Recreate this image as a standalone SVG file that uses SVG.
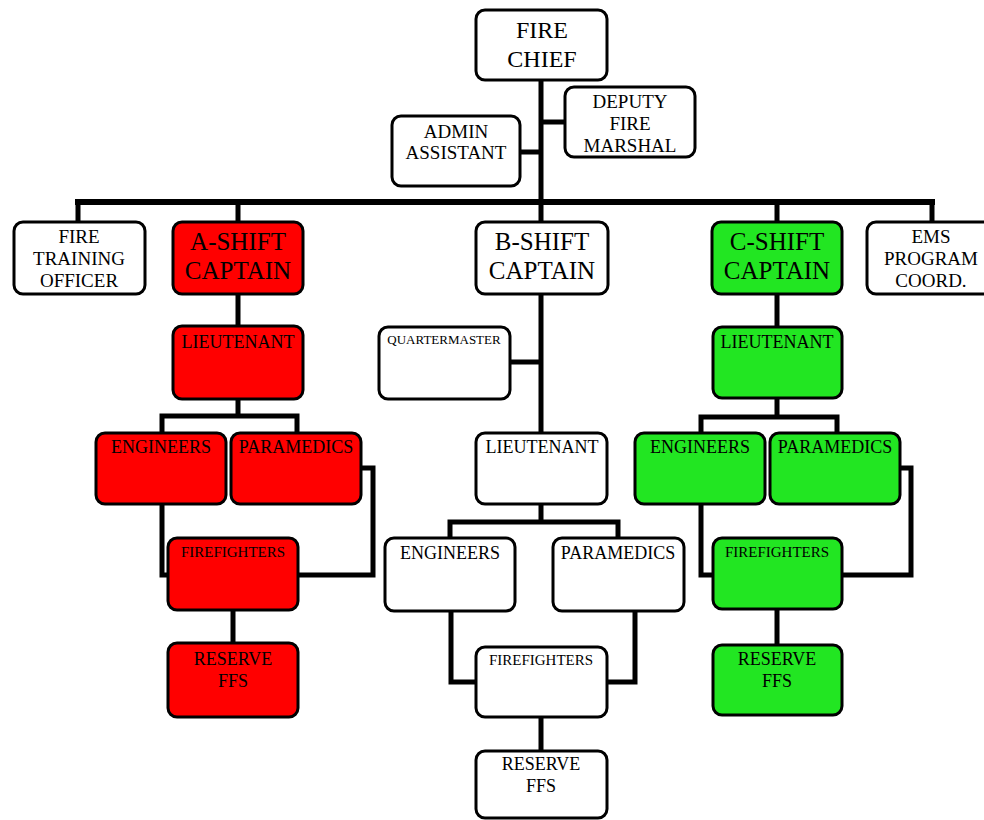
<svg xmlns="http://www.w3.org/2000/svg" width="984" height="820" viewBox="0 0 984 820">
<style>
.bx{stroke:#000;stroke-width:3;}
.w{fill:#fff;}
.r{fill:#ff0000;}
.g{fill:#22e622;}
.c{fill:none;stroke:#000;stroke-width:5;stroke-linecap:square;stroke-linejoin:miter;}
text{font-family:'Liberation Serif','DejaVu Serif','Times New Roman',serif;fill:#000;text-anchor:middle;}
.t25{font-size:25px;}
.t24{font-size:24px;}
.t19{font-size:19px;}
.t18{font-size:18px;}
.t15{font-size:15px;}
.t13{font-size:13px;}
</style>
<rect width="984" height="820" fill="#fff"/>
<g id="connectors">
<path class="c" d="M541 80V202M520 152H541M541 122H565"/>
<path class="c" style="stroke-width:6" d="M78 202H932"/>
<path class="c" d="M78 202V222M238 202V222M541 202V222M777 202V222M932 202V222"/>
<path class="c" d="M238 294V326M238 399V416M162 416H297M162 416V433M297 416V433M162 504V575H168M361 468H373V575H298M233 610V643"/>
<path class="c" d="M541 294V433M510 362H541M541 504V522M450 522H618M450 522V538M618 522V538M451 611V682H476M635 611V682H607M541 717V751"/>
<path class="c" d="M777 293V327M777 398V417M701 417H837M701 417V433M837 417V433M701 504V575H713M900 468H911V575H842M777 609V645"/>
</g>
<g font-family="Liberation Serif, DejaVu Serif, serif">
<g id="fire-chief"><rect class="bx w" x="476" y="10" width="131" height="70" rx="9"/><text class="t24" x="542" y="38">FIRE</text><text class="t24" x="542" y="67">CHIEF</text></g>
<g id="admin-assistant"><rect class="bx w" x="392" y="116" width="128" height="70" rx="9"/><text class="t19" x="456" y="138">ADMIN</text><text class="t19" x="456" y="159">ASSISTANT</text></g>
<g id="deputy-fire-marshal"><rect class="bx w" x="565" y="87" width="130" height="70" rx="9"/><text class="t19" x="630" y="108">DEPUTY</text><text class="t19" x="630" y="130">FIRE</text><text class="t19" x="630" y="152">MARSHAL</text></g>
<g id="fire-training-officer"><rect class="bx w" x="14" y="222" width="131" height="72" rx="9"/><text class="t19" x="79" y="243">FIRE</text><text class="t19" x="79" y="265">TRAINING</text><text class="t19" x="79" y="287">OFFICER</text></g>
<g id="a-shift-captain"><rect class="bx r" x="173" y="222" width="130" height="72" rx="9"/><text class="t25" x="238" y="250">A-SHIFT</text><text class="t25" x="238" y="279">CAPTAIN</text></g>
<g id="b-shift-captain"><rect class="bx w" x="476" y="222" width="132" height="72" rx="9"/><text class="t25" x="542" y="250">B-SHIFT</text><text class="t25" x="542" y="279">CAPTAIN</text></g>
<g id="c-shift-captain"><rect class="bx g" x="712" y="222" width="130" height="72" rx="9"/><text class="t25" x="777" y="250">C-SHIFT</text><text class="t25" x="777" y="279">CAPTAIN</text></g>
<g id="ems-program-coord"><rect class="bx w" x="867" y="222" width="130" height="72" rx="9"/><text class="t19" x="931" y="243">EMS</text><text class="t19" x="931" y="265">PROGRAM</text><text class="t19" x="931" y="287">COORD.</text></g>
<g id="a-lieutenant"><rect class="bx r" x="173" y="326" width="130" height="73" rx="9"/><text class="t18" x="238" y="348">LIEUTENANT</text></g>
<g id="a-engineers"><rect class="bx r" x="96" y="433" width="130" height="71" rx="9"/><text class="t18" x="161" y="453">ENGINEERS</text></g>
<g id="a-paramedics"><rect class="bx r" x="231" y="433" width="130" height="71" rx="9"/><text class="t18" x="296" y="453">PARAMEDICS</text></g>
<g id="a-firefighters"><rect class="bx r" x="168" y="538" width="130" height="72" rx="9"/><text class="t15" x="233" y="557">FIREFIGHTERS</text></g>
<g id="a-reserve-ffs"><rect class="bx r" x="168" y="643" width="130" height="74" rx="9"/><text class="t18" x="233" y="665">RESERVE</text><text class="t18" x="233" y="687">FFS</text></g>
<g id="quartermaster"><rect class="bx w" x="379" y="327" width="131" height="72" rx="9"/><text class="t13" x="444" y="344">QUARTERMASTER</text></g>
<g id="b-lieutenant"><rect class="bx w" x="476" y="433" width="131" height="71" rx="9"/><text class="t18" x="542" y="453">LIEUTENANT</text></g>
<g id="b-engineers"><rect class="bx w" x="385" y="538" width="130" height="73" rx="9"/><text class="t18" x="450" y="559">ENGINEERS</text></g>
<g id="b-paramedics"><rect class="bx w" x="553" y="538" width="131" height="73" rx="9"/><text class="t18" x="618" y="559">PARAMEDICS</text></g>
<g id="b-firefighters"><rect class="bx w" x="476" y="647" width="131" height="70" rx="9"/><text class="t15" x="541" y="665">FIREFIGHTERS</text></g>
<g id="b-reserve-ffs"><rect class="bx w" x="476" y="751" width="131" height="67" rx="9"/><text class="t18" x="541" y="770">RESERVE</text><text class="t18" x="541" y="792">FFS</text></g>
<g id="c-lieutenant"><rect class="bx g" x="713" y="327" width="129" height="71" rx="9"/><text class="t18" x="777" y="348">LIEUTENANT</text></g>
<g id="c-engineers"><rect class="bx g" x="635" y="433" width="130" height="71" rx="9"/><text class="t18" x="700" y="453">ENGINEERS</text></g>
<g id="c-paramedics"><rect class="bx g" x="770" y="433" width="130" height="71" rx="9"/><text class="t18" x="835" y="453">PARAMEDICS</text></g>
<g id="c-firefighters"><rect class="bx g" x="713" y="538" width="129" height="71" rx="9"/><text class="t15" x="777" y="557">FIREFIGHTERS</text></g>
<g id="c-reserve-ffs"><rect class="bx g" x="713" y="645" width="129" height="70" rx="9"/><text class="t18" x="777" y="665">RESERVE</text><text class="t18" x="777" y="687">FFS</text></g>
</g>
</svg>
